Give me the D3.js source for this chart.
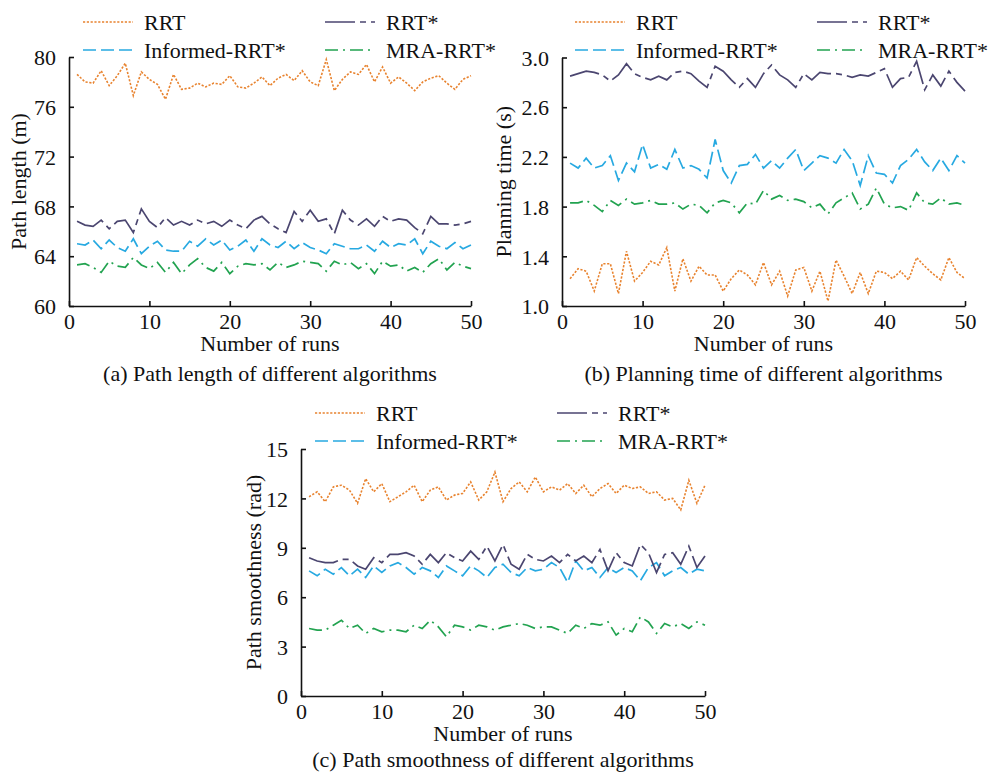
<!DOCTYPE html>
<html><head><meta charset="utf-8">
<script src="https://cdn.jsdelivr.net/npm/d3@7"></script>
<style>body{margin:0;background:#fff}svg{display:block}text{font-family:"Liberation Serif","Times New Roman",serif;fill:#111}</style>
</head><body>
<svg id="c" width="992" height="774"></svg>
<script>
const runs = d3.range(1, 51);
const seriesNames = ["RRT", "RRT*", "Informed-RRT*", "MRA-RRT*"];
const xTicks = [0, 10, 20, 30, 40, 50];

// (a) Path length (m)
const lenRRT = [78.6,78.0,77.9,78.9,77.7,78.5,79.5,76.9,78.8,78.2,77.8,76.6,78.6,77.4,77.5,77.9,77.6,77.9,77.8,78.5,77.6,77.5,77.9,78.4,77.7,78.3,78.6,78.1,78.9,78.0,77.7,79.8,77.3,78.2,78.8,78.6,79.4,78.0,79.2,77.9,78.4,77.9,77.3,78.0,78.3,78.5,77.9,77.4,78.2,78.5];
const lenRRTstar = [66.8,66.5,66.4,66.9,66.2,66.8,66.9,65.9,67.8,66.8,66.3,67.1,66.5,66.8,66.5,66.9,66.6,66.8,66.4,66.9,66.5,66.2,66.9,67.2,66.6,66.2,65.9,67.6,66.8,67.7,66.8,67.0,65.8,67.7,66.9,66.5,67.0,66.4,67.2,66.8,67.0,66.9,66.3,65.8,67.2,66.6,66.6,66.5,66.6,66.8];
const lenInformed = [65.0,64.9,65.3,64.6,65.3,64.7,64.4,65.4,64.2,64.8,65.2,64.5,64.4,64.4,65.2,64.8,65.4,64.9,65.3,64.5,64.8,65.3,64.4,65.4,64.9,64.7,65.2,64.6,65.1,64.7,64.5,64.2,65.0,64.8,64.6,64.6,64.9,64.4,65.2,64.7,65.0,64.9,65.4,64.2,65.2,64.8,64.6,65.1,64.6,64.9];
const lenMRA = [63.3,63.4,63.1,62.7,63.6,63.2,63.1,63.9,63.3,63.0,63.5,62.7,63.5,62.6,63.3,63.8,63.1,62.8,63.5,62.6,63.2,63.4,63.3,63.4,62.9,63.5,63.1,63.3,63.6,63.5,63.4,62.8,63.6,63.3,63.5,63.0,63.4,62.6,63.6,63.2,63.3,62.8,63.1,62.7,63.4,63.8,62.9,63.5,63.2,63.0];
const lenTicks = [60, 64, 68, 72, 76, 80];

// (b) Planning time (s)
const timeRRT = [1.22,1.30,1.28,1.12,1.34,1.34,1.10,1.44,1.20,1.27,1.36,1.33,1.47,1.12,1.38,1.20,1.32,1.25,1.25,1.12,1.22,1.29,1.25,1.17,1.35,1.17,1.28,1.08,1.29,1.31,1.12,1.28,1.04,1.37,1.24,1.10,1.27,1.10,1.28,1.27,1.22,1.28,1.21,1.39,1.32,1.26,1.21,1.39,1.27,1.22];
const timeRRTstar = [2.85,2.87,2.89,2.88,2.86,2.81,2.86,2.95,2.87,2.84,2.82,2.85,2.82,2.88,2.89,2.87,2.81,2.76,2.93,2.89,2.82,2.76,2.83,2.76,2.87,2.94,2.86,2.82,2.76,2.87,2.82,2.88,2.87,2.87,2.86,2.84,2.86,2.85,2.88,2.91,2.76,2.83,2.84,2.97,2.74,2.86,2.77,2.89,2.80,2.73];
const timeInformed = [2.15,2.11,2.19,2.11,2.13,2.21,2.01,2.15,2.08,2.30,2.11,2.14,2.10,2.26,2.11,2.13,2.10,2.03,2.34,2.09,1.99,2.13,2.14,2.22,2.11,2.17,2.11,2.19,2.26,2.09,2.15,2.21,2.19,2.15,2.26,2.17,1.97,2.21,2.07,2.06,1.99,2.13,2.18,2.26,2.16,2.09,2.19,2.09,2.21,2.15];
const timeMRA = [1.83,1.83,1.85,1.81,1.76,1.85,1.81,1.86,1.82,1.83,1.85,1.82,1.82,1.83,1.78,1.82,1.81,1.75,1.83,1.85,1.83,1.75,1.83,1.82,1.93,1.86,1.89,1.85,1.86,1.84,1.79,1.82,1.74,1.83,1.87,1.91,1.78,1.82,1.95,1.82,1.79,1.80,1.77,1.91,1.83,1.82,1.87,1.82,1.83,1.81];
const timeTicks = [1.0, 1.4, 1.8, 2.2, 2.6, 3.0];

// (c) Path smoothness (rad)
const smRRT = [12.1,12.4,11.8,12.7,12.8,12.5,11.7,13.2,12.4,12.9,11.8,12.1,12.4,12.8,11.8,12.5,12.7,11.9,12.2,12.3,13.0,11.9,12.4,13.6,11.8,12.6,13.0,12.4,13.3,12.4,12.7,12.5,12.9,12.3,12.8,12.1,12.6,12.9,12.3,12.8,12.6,12.7,12.3,12.4,11.9,12.0,11.3,13.1,11.7,12.8];
const smRRTstar = [8.4,8.2,8.1,8.1,8.3,8.3,7.9,7.7,8.4,8.1,8.6,8.6,8.7,8.5,8.0,8.6,8.1,8.7,8.4,8.2,8.8,8.3,9.1,8.2,9.2,8.0,7.7,8.6,8.3,8.2,8.5,8.1,8.6,8.2,8.5,8.1,8.9,7.6,8.7,8.1,7.9,9.2,8.7,7.5,8.6,8.7,8.0,9.1,7.8,8.5];
const smInformed = [7.6,7.3,7.7,7.4,7.8,7.3,7.7,7.2,7.9,7.5,7.9,8.1,7.8,7.4,7.8,7.6,7.2,7.9,7.6,7.3,7.9,7.6,7.2,7.8,8.0,7.5,7.3,7.8,7.6,7.7,8.1,7.8,6.9,8.2,7.6,7.8,7.2,7.8,7.5,7.8,7.6,7.0,7.8,8.1,7.3,7.6,7.8,7.4,7.7,7.6];
const smMRA = [4.1,4.0,4.0,4.3,4.6,4.1,4.3,3.8,4.1,3.9,4.0,4.0,3.9,4.3,4.1,4.6,4.2,3.6,4.3,4.2,4.0,4.3,4.2,4.0,4.2,4.3,4.4,4.3,4.1,4.2,4.2,4.0,3.8,4.3,4.1,4.4,4.3,4.5,3.7,4.1,3.9,4.8,4.5,3.8,4.4,4.2,4.4,4.1,4.5,4.3];
const smTicks = [0, 3, 6, 9, 12, 15];

const colors = ["#E8832F", "#4B4670", "#27A9E1", "#22A350"];
const dashes = ["2.2,1.6", "30,5,6,5", "13,5", "13,5,2,5"];

const svg = d3.select("#c");

function panel(o) {
  const g = svg.append("g");
  const x = d3.scaleLinear().domain([0, 50]).range([o.x0, o.x1]);
  const y = d3.scaleLinear().domain(o.yDomain).range([o.y0, o.y1]);
  const series = [o.s0, o.s1, o.s2, o.s3];
  const line = d3.line().x((d, i) => x(runs[i])).y(d => y(d));
  [3, 2, 1, 0].forEach(k => {
    g.append("path").datum(series[k]).attr("d", line)
      .attr("fill", "none").attr("stroke", colors[k]).attr("stroke-width", k === 0 ? 1.6 : 1.7)
      .attr("stroke-dasharray", dashes[k]);
  });
  const xa = g.append("g").attr("transform", `translate(0,${o.y0})`)
    .call(d3.axisBottom(x).tickValues(xTicks).tickSizeInner(-5).tickSizeOuter(0).tickPadding(7).tickFormat(d3.format("d")));
  const ya = g.append("g").attr("transform", `translate(${o.x0},0)`)
    .call(d3.axisLeft(y).tickValues(o.yTicks).tickSizeInner(-5).tickSizeOuter(0).tickPadding(13).tickFormat(o.fmt));
  [xa, ya].forEach(a => {
    a.select(".domain").attr("stroke", "#111").attr("stroke-width", 1.6);
    a.selectAll(".tick line").attr("stroke", "#111").attr("stroke-width", 1.6);
    a.selectAll("text").attr("font-size", 22).attr("font-family", '"Liberation Serif",serif').attr("fill", "#111");
  });
  ya.selectAll("text").attr("dy", "0.35em");
  const cx = (o.x0 + o.x1) / 2;
  g.append("text").attr("x", cx).attr("y", o.y0 + 45).attr("text-anchor", "middle").attr("font-size", 22).text("Number of runs");
  g.append("text").attr("x", cx).attr("y", o.y0 + o.capOff).attr("text-anchor", "middle").attr("font-size", 22).text(o.caption);
  g.append("text").attr("transform", `translate(${o.yTitleX},${(o.y0 + o.y1) / 2}) rotate(-90)`)
    .attr("text-anchor", "middle").attr("font-size", 22).text(o.yTitle);
  const cols = [o.lx, o.lx + 242];
  seriesNames.forEach((nm, k) => {
    const lx = cols[k % 2], ly = o.ly + Math.floor(k / 2) * 28;
    g.append("line").attr("x1", lx).attr("x2", lx + 50).attr("y1", ly).attr("y2", ly)
      .attr("stroke", colors[k]).attr("stroke-width", 1.7).attr("stroke-dasharray", dashes[k]);
    g.append("text").attr("x", lx + 61).attr("y", ly + 8).attr("font-size", 22).text(nm);
  });
}

panel({x0: 69, x1: 471, y0: 306, y1: 57, yDomain: [60, 80], yTicks: lenTicks, fmt: d3.format("d"),
  s0: lenRRT, s1: lenRRTstar, s2: lenInformed, s3: lenMRA, capOff: 75,
  yTitle: "Path length (m)", yTitleX: 26, caption: "(a) Path length of different algorithms", lx: 83, ly: 22});
panel({x0: 562, x1: 965, y0: 306, y1: 57.5, yDomain: [1.0, 3.0], yTicks: timeTicks, fmt: d3.format(".1f"),
  s0: timeRRT, s1: timeRRTstar, s2: timeInformed, s3: timeMRA, capOff: 75,
  yTitle: "Planning time (s)", yTitleX: 511, caption: "(b) Planning time of different algorithms", lx: 575, ly: 22});
panel({x0: 301, x1: 705, y0: 696, y1: 449, yDomain: [0, 15], yTicks: smTicks, fmt: d3.format("d"),
  s0: smRRT, s1: smRRTstar, s2: smInformed, s3: smMRA, capOff: 71,
  yTitle: "Path smoothness (rad)", yTitleX: 261, caption: "(c) Path smoothness of different algorithms", lx: 315, ly: 413});
</script>
</body></html>
